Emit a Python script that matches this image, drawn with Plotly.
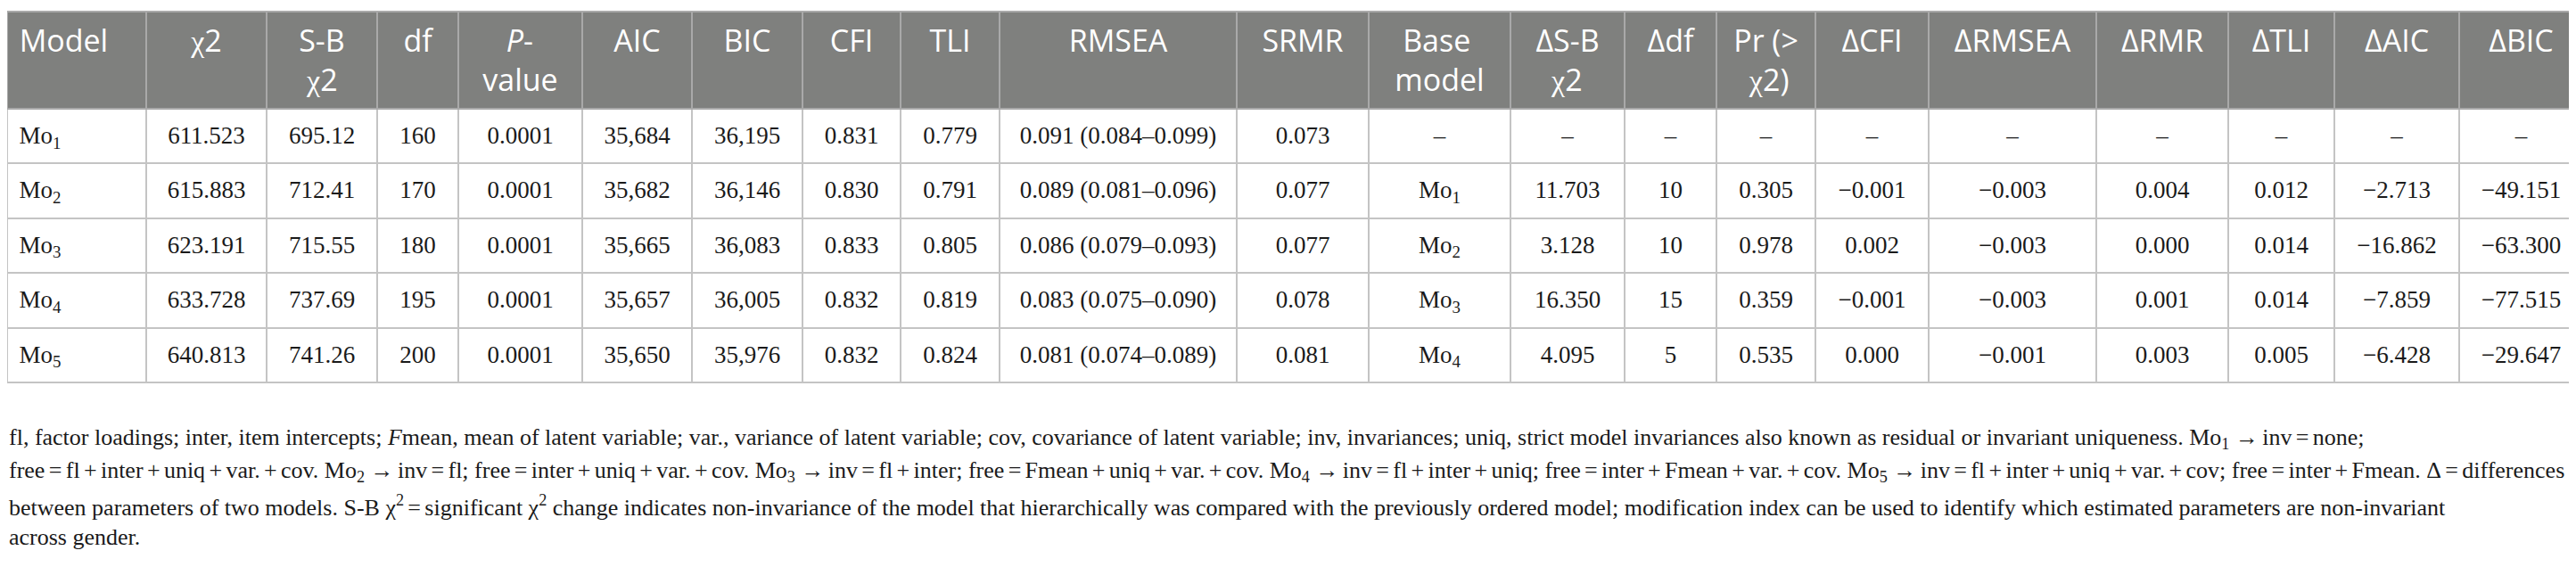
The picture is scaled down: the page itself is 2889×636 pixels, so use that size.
import plotly.graph_objects as go

# table data, as printed
models = ['Mo<sub>1</sub>', 'Mo<sub>2</sub>', 'Mo<sub>3</sub>', 'Mo<sub>4</sub>', 'Mo<sub>5</sub>']
chi2 = ['611.523', '615.883', '623.191', '633.728', '640.813']
sb_chi2 = ['695.12', '712.41', '715.55', '737.69', '741.26']
df = ['160', '170', '180', '195', '200']
p_value = ['0.0001', '0.0001', '0.0001', '0.0001', '0.0001']
aic = ['35,684', '35,682', '35,665', '35,657', '35,650']
bic = ['36,195', '36,146', '36,083', '36,005', '35,976']
cfi = ['0.831', '0.830', '0.833', '0.832', '0.832']
tli = ['0.779', '0.791', '0.805', '0.819', '0.824']
rmsea = ['0.091 (0.084–0.099)', '0.089 (0.081–0.096)', '0.086 (0.079–0.093)',
         '0.083 (0.075–0.090)', '0.081 (0.074–0.089)']
srmr = ['0.073', '0.077', '0.077', '0.078', '0.081']
base_model = ['–', 'Mo<sub>1</sub>', 'Mo<sub>2</sub>', 'Mo<sub>3</sub>', 'Mo<sub>4</sub>']
d_sb_chi2 = ['–', '11.703', '3.128', '16.350', '4.095']
d_df = ['–', '10', '10', '15', '5']
pr_chi2 = ['–', '0.305', '0.978', '0.359', '0.535']
d_cfi = ['–', '−0.001', '0.002', '−0.001', '0.000']
d_rmsea = ['–', '−0.003', '−0.003', '−0.003', '−0.001']
d_rmr = ['–', '0.004', '0.000', '0.001', '0.003']
d_tli = ['–', '0.012', '0.014', '0.014', '0.005']
d_aic = ['–', '−2.713', '−16.862', '−7.859', '−6.428']
d_bic = ['–', '−49.151', '−63.300', '−77.515', '−29.647']

CHI = '<span style="font-family:Liberation Serif">χ</span>'
NB = '\u00a0'
headers = ['Model', CHI + '2', 'S-B<br>' + NB + CHI + '2', 'df', NB * 3 + '<i>P</i>-<br>value',
           'AIC', 'BIC', 'CFI', 'TLI', 'RMSEA', 'SRMR', NB + 'Base<br>model',
           'ΔS-B<br>' + NB * 2 + CHI + '2', 'Δdf', 'Pr (><br>' + NB * 2 + CHI + '2)', 'ΔCFI',
           'ΔRMSEA', 'ΔRMR', 'ΔTLI', 'ΔAIC', 'ΔBIC']

columns = [models, chi2, sb_chi2, df, p_value, aic, bic, cfi, tli, rmsea, srmr, base_model,
           d_sb_chi2, d_df, pr_chi2, d_cfi, d_rmsea, d_rmr, d_tli, d_aic, d_bic]

S = '\u2006'
footnote = [
    'fl, factor loadings; inter, item intercepts; <i>F</i>mean, mean of latent variable; var., variance of latent variable; '
    'cov, covariance of latent variable; inv, invariances; uniq, strict model invariances also known as residual or '
    f'invariant uniqueness. Mo<sub>1</sub> →{S}inv{S}={S}none;',
    f'free{S}={S}fl{S}+{S}inter{S}+{S}uniq{S}+{S}var.{S}+{S}cov. Mo<sub>2</sub> →{S}inv{S}={S}fl; '
    f'free{S}={S}inter{S}+{S}uniq{S}+{S}var.{S}+{S}cov. Mo<sub>3</sub> →{S}inv{S}={S}fl{S}+{S}inter; '
    f'free{S}={S}Fmean{S}+{S}uniq{S}+{S}var.{S}+{S}cov. Mo<sub>4</sub> →{S}inv{S}={S}fl{S}+{S}inter{S}+{S}uniq; '
    f'free{S}={S}inter{S}+{S}Fmean{S}+{S}var.{S}+{S}cov. Mo<sub>5</sub> →{S}inv{S}={S}fl{S}+{S}inter{S}+{S}uniq{S}+{S}var.{S}+{S}cov; '
    f'free{S}={S}inter{S}+{S}Fmean. Δ{S}={S}differences',
    f'between parameters of two models. S-B χ<sup>2</sup>{S}={S}significant χ<sup>2</sup> change indicates non-invariance '
    'of the model that hierarchically was compared with the previously ordered model; modification index can be used '
    'to identify which estimated parameters are non-invariant',
    'across gender.',
]

col_px = [156, 135, 124, 91, 139, 123, 124, 110, 111, 266, 148, 159, 128, 103, 111, 127, 188, 148, 119, 140, 139]
align = ['left'] + ['center'] * (len(headers) - 1)


def shifted(txt, px, lead=NB):
    # tables top-align their text; an unshifted nbsp at the end keeps the
    # cell's top edge while the visible text is pushed down by px.
    # the trailing <br> stops the table from re-wrapping the markup at spaces
    lines = [f'{lead}<span style="baseline-shift:-{px}px">{ln}</span>{NB}' for ln in txt.split('<br>')]
    return '<br>'.join(lines) + '<br>'


def column_cells(values, i, px):
    lead = '\u2009' if align[i] == 'left' else NB
    return [shifted(v, px, lead) for v in values]


W, H = 2889, 636
TOP = 5

fig = go.Figure(go.Table(
    columnwidth=col_px,
    header=dict(values=[column_cells([h], i, 1)[0] for i, h in enumerate(headers)],
                fill_color='#7f807e', align=align, height=109,
                line=dict(color='#a9a9a9', width=2),
                font=dict(family='Open Sans', size=34, color='white')),
    cells=dict(values=[column_cells(col, i, 7) for i, col in enumerate(columns)], fill_color='white',
               align=align, height=61.4,
               line=dict(color='#c4c4c4', width=2),
               font=dict(family='Liberation Serif', size=27, color='#1a1a1a')),
    domain=dict(x=[0, 1], y=[0, 1]),
))

# footnote lines under the table
line_top = 466
pitch = 37.3
for i, txt in enumerate(footnote):
    fig.add_annotation(text=txt, xref='paper', yref='paper', x=0, xanchor='left',
                       y=1 - (line_top + i * pitch - TOP) / (H - TOP), yanchor='top',
                       showarrow=False, align='left',
                       font=dict(family='Liberation Serif', size=26, color='#1a1a1a'))

fig.update_layout(width=W, height=H, margin=dict(l=0, r=0, t=TOP, b=0),
                  paper_bgcolor='white', plot_bgcolor='white')

fig.write_html('out.html')
